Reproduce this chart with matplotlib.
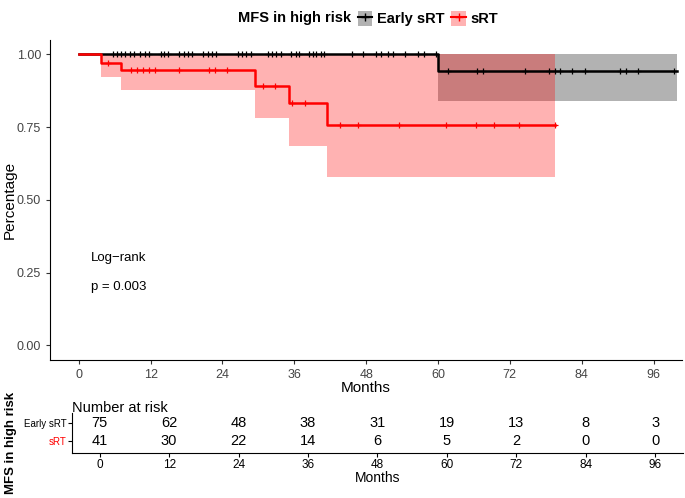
import numpy as np
import matplotlib
matplotlib.use("Agg")
import matplotlib.pyplot as plt
from matplotlib.patches import Patch
from matplotlib.lines import Line2D

plt.rcParams['font.family'] = ['Liberation Sans', 'DejaVu Sans']
narrow = ['Liberation Sans Narrow', 'Liberation Sans', 'DejaVu Sans']

# Kaplan-Meier steps
early_t = [0, 60, 100]
early_s = [1.0, 0.943, 0.943]
early_lo = [1.0, 0.84, 0.84]
early_hi = [1.0, 1.0, 1.0]
early_cens = [5.7, 6.4, 7.1, 7.8, 8.6, 9.3, 10.2, 11.0, 11.8, 13.8, 14.3, 14.9,
              16.8, 17.5, 18.2, 18.9, 20.7, 21.6, 22.3, 22.9, 26.6, 27.3, 27.9,
              28.8, 31.6, 32.2, 32.9, 33.8, 35.4, 36.3, 36.8, 38.5, 39.1, 39.7,
              40.4, 41.0, 45.7, 47.5, 49.6, 50.5, 51.6, 52.5, 54.5, 56.6, 57.7,
              59.6, 61.6, 66.6, 67.5, 74.5, 78.5, 79.6, 80.4, 82.4, 84.5, 90.4,
              91.4, 93.4, 99.5]

srt_t = [0, 3.8, 7.0, 29.5, 35.2, 41.5, 79.6]
srt_s = [1.0, 0.972, 0.945, 0.893, 0.833, 0.757, 0.757]
srt_lo = [1.0, 0.922, 0.877, 0.78, 0.687, 0.58, 0.58]
srt_hi = [1.0, 1.0, 1.0, 1.0, 1.0, 1.0, 1.0]
srt_cens = [4.9, 8.8, 9.7, 10.7, 11.7, 12.7, 16.8, 21.8, 22.8, 24.8, 30.7,
            32.7, 35.7, 37.8, 43.6, 46.6, 53.5, 61.4, 66.4, 69.4, 73.5, 79.6]

# number at risk table
risk_times = [0, 12, 24, 36, 48, 60, 72, 84, 96]
early_risk = [75, 62, 48, 38, 31, 19, 13, 8, 3]
srt_risk = [41, 30, 22, 14, 6, 5, 2, 0, 0]

red = '#FF0000'
xlim = (-4.8, 100.8)

fig = plt.figure(figsize=(6.85, 4.98), dpi=100)
ax = fig.add_axes([0.073, 0.277, 0.923, 0.643])
tab = fig.add_axes([0.105, 0.090, 0.892, 0.081])


def surv_at(t, times, surv):
    idx = np.searchsorted(times, t, side='right') - 1
    return np.asarray(surv)[idx]


# confidence bands
ax.fill_between(early_t, early_lo, early_hi, step='post', color='black',
                alpha=0.3, linewidth=0, zorder=1)
ax.fill_between(srt_t, srt_lo, srt_hi, step='post', color=red,
                alpha=0.3, linewidth=0, zorder=2)

# survival curves
ax.step(early_t, early_s, where='post', color='black', lw=1.8, zorder=3)
ax.step(srt_t, srt_s, where='post', color=red, lw=1.8, zorder=4)
ax.plot(early_cens, surv_at(early_cens, early_t, early_s), '+', color='black',
        ms=5, mew=0.9, zorder=3)
ax.plot(srt_cens, surv_at(srt_cens, srt_t, srt_s), '+', color=red,
        ms=5, mew=0.9, zorder=4)

ax.text(2, 0.30, 'Log\u2212rank', fontsize=9.5, va='center')
ax.text(2, 0.20, 'p = 0.003', fontsize=9.5, va='center')

ax.set_xlim(*xlim)
ax.set_ylim(-0.05, 1.05)
ax.set_xticks(risk_times)
ax.set_yticks([0, 0.25, 0.5, 0.75, 1.0])
ax.set_yticklabels(['0.00', '0.25', '0.50', '0.75', '1.00'])
ax.tick_params(labelsize=9, length=3, color='#333333', labelcolor='#444444')
ax.set_xlabel('Months', fontsize=11, labelpad=0)
ax.set_ylabel('Percentage', fontsize=11)
ax.yaxis.set_label_coords(-0.052, 0.5)
for s in ['top', 'right']:
    ax.spines[s].set_visible(False)

# legend
fig.text(0.512, 0.963, 'MFS in high risk', ha='right', va='center',
         fontsize=10.5, fontweight='bold')
handles = [(Patch(color='black', alpha=0.3, lw=0),
            Line2D([], [], color='black', marker='+', lw=1.5, ms=6)),
           (Patch(color=red, alpha=0.3, lw=0),
            Line2D([], [], color=red, marker='+', lw=1.5, ms=6))]
fig.legend(handles, ['Early sRT', 'sRT'], loc='center left',
           bbox_to_anchor=(0.522, 0.963), ncol=2, frameon=False,
           prop={'weight': 'bold', 'size': 10.5}, handlelength=1.0,
           handleheight=1.2, handletextpad=0.3, columnspacing=0.5,
           borderpad=0, borderaxespad=0)

# risk table
for x, n in zip(risk_times, early_risk):
    tab.text(x, 1, str(n), ha='center', va='center', fontsize=10.5,
             family=narrow)
for x, n in zip(risk_times, srt_risk):
    tab.text(x, 0, str(n), ha='center', va='center', fontsize=10.5,
             family=narrow)
tab.set_xlim(*xlim)
tab.set_ylim(-0.667, 1.556)
tab.set_xticks(risk_times)
tab.set_yticks([1, 0])
tab.tick_params(length=3, pad=1)
tab.tick_params(axis='x', labelsize=8.5)
tab.set_yticklabels(['Early sRT', 'sRT'], family=narrow, fontsize=7)
tab.get_yticklabels()[1].set_color(red)
for lbl in tab.get_xticklabels():
    lbl.set_family(narrow)
tab.set_xlabel('Months', fontsize=10, labelpad=0, family=narrow)
for s in ['top', 'right']:
    tab.spines[s].set_visible(False)
tab.text(0, 1.13, 'Number at risk', transform=tab.transAxes, ha='left',
         va='center', fontsize=10.5)
fig.text(0.016, 0.11, 'MFS in high risk', rotation=90, ha='center',
         va='center', fontsize=9.5, fontweight='bold')

fig.savefig('out.png', dpi=100)
